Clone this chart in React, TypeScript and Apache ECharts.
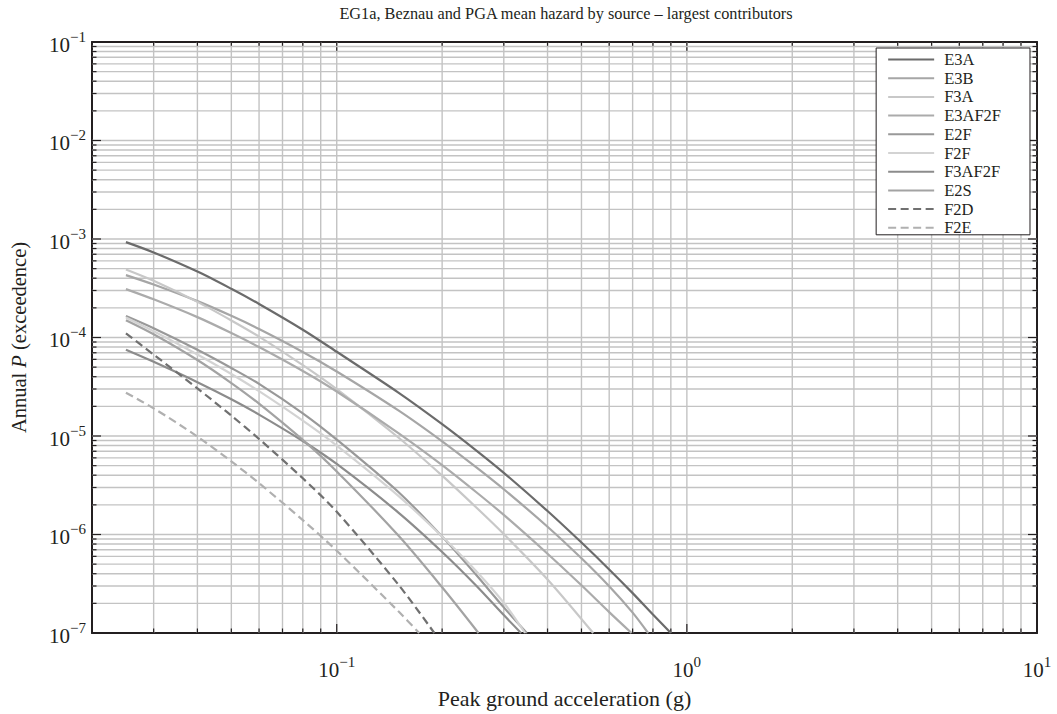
import React, { useEffect, useRef } from 'react';
import * as echarts from 'echarts';

// Peak ground acceleration sample points (g)
const pga = [0.025, 0.03, 0.04, 0.05, 0.06, 0.08, 0.1, 0.15, 0.2, 0.25, 0.3, 0.4, 0.5, 0.6, 0.7, 0.8];

// Annual probability of exceedance per source, read at the pga points above
const E3A = [9.3e-4, 7.3e-4, 4.67e-4, 3.12e-4, 2.19e-4, 1.2e-4, 7.16e-5, 2.76e-5, 1.32e-5, 7.16e-6, 4.23e-6, 1.73e-6, 8.28e-7, 4.42e-7, 2.54e-7, 1.54e-7];
const E3B = [4.3e-4, 3.45e-4, 2.34e-4, 1.66e-4, 1.22e-4, 7.14e-5, 4.52e-5, 1.82e-5, 8.84e-6, 4.83e-6, 2.88e-6, 1.2e-6, 5.73e-7, 2.98e-7, 1.61e-7];
const F3A = [4.9e-4, 3.76e-4, 2.3e-4, 1.49e-4, 1.02e-4, 5.25e-5, 3.0e-5, 9.66e-6, 3.96e-6, 1.89e-6, 1.01e-6, 3.5e-7];
const E3AF2F = [3.1e-4, 2.44e-4, 1.61e-4, 1.11e-4, 8.0e-5, 4.57e-5, 2.83e-5, 1.07e-5, 5.06e-6, 2.7e-6, 1.58e-6, 6.38e-7, 3.05e-7, 1.63e-7];
const E2F = [1.65e-4, 1.24e-4, 7.5e-5, 4.9e-5, 3.38e-5, 1.7e-5, 9.2e-6, 2.7e-6, 9.53e-7, 3.9e-7, 1.82e-7];
const F2F = [1.6e-4, 1.16e-4, 6.73e-5, 4.26e-5, 2.85e-5, 1.43e-5, 8.0e-6, 2.47e-6, 9.55e-7, 4.27e-7, 2.03e-7];
const F3AF2F = [7.5e-5, 5.66e-5, 3.52e-5, 2.36e-5, 1.65e-5, 8.9e-6, 5.2e-6, 1.67e-6, 6.65e-7, 3.04e-7, 1.52e-7];
const E2S = [1.5e-4, 1.08e-4, 5.91e-5, 3.45e-5, 2.13e-5, 9.12e-6, 4.37e-6, 9.75e-7, 2.91e-7];
const F2D = [1.1e-4, 6.71e-5, 3.04e-5, 1.61e-5, 9.33e-6, 3.72e-6, 1.7e-6, 3.1e-7];
const F2E = [2.75e-5, 1.91e-5, 9.87e-6, 5.52e-6, 3.32e-6, 1.4e-6, 6.85e-7, 1.66e-7];

const sourceNames = ['E3A', 'E3B', 'F3A', 'E3AF2F', 'E2F', 'F2F', 'F3AF2F', 'E2S', 'F2D', 'F2E'];
const sourceValues = [E3A, E3B, F3A, E3AF2F, E2F, F2F, F3AF2F, E2S, F2D, F2E];
// PGA at which each curve reaches the lower bound of the plot (1e-7)
const endPga = [0.9, 0.775, 0.54, 0.695, 0.349, 0.345, 0.336, 0.254, 0.19, 0.172];

// Axis ranges and log grid positions
const xRange = [0.02, 10];
const yRange = [1e-7, 1e-1];
const xGridValues = [0.03, 0.04, 0.05, 0.06, 0.07, 0.08, 0.09, 0.1, 0.2, 0.3, 0.4, 0.5, 0.6, 0.7, 0.8, 0.9, 1, 2, 3, 4, 5, 6, 7, 8, 9];
const yDecades = [1e-7, 1e-6, 1e-5, 1e-4, 1e-3, 1e-2];
const yMantissas = [1, 2, 3, 4, 5, 6, 7, 8, 9];

const lineColors = ['#6b6b6b', '#a6a6a6', '#c8c8c8', '#ababab', '#999999', '#d3d3d3', '#8c8c8c', '#a3a3a3', '#707070', '#b0b0b0'];
const dashed = [false, false, false, false, false, false, false, false, true, true];

const titleText = 'EG1a, Beznau and PGA mean hazard by source \u2013 largest contributors';
const xName = 'Peak ground acceleration (g)';

const FONT = '"Liberation Serif", "DejaVu Serif", serif';
const INK = '#231f20';
const GRID = '#c3c3c3';
const MAJOR_TICK = 9;
const MINOR_TICK = 4.5;

function isPow10(v: number) {
  const lg = Math.log10(v);
  return Math.abs(lg - Math.round(lg)) < 1e-6;
}

function powLabel(v: number) {
  if (!isPow10(v)) return '';
  const e = Math.round(Math.log10(v));
  const sup = e < 0 ? '\u2212' + String(-e) : String(e);
  return '{b|10}{s|' + sup + '}';
}

const richPow = {
  b: { fontFamily: FONT, fontSize: 21, color: INK, lineHeight: 26, verticalAlign: 'bottom' },
  s: { fontFamily: FONT, fontSize: 15, color: INK, verticalAlign: 'top', lineHeight: 26 },
};

export default function App() {
  const ref = useRef<HTMLDivElement>(null);
  useEffect(() => {
    if (!ref.current) return;
    const chart = echarts.init(ref.current, null, { renderer: 'svg' });

    const series: any[] = sourceNames.map((name, i) => {
      const data: number[][] = [];
      sourceValues[i].forEach((v, j) => {
        if (v != null) data.push([pga[j], v as number]);
      });
      data.push([endPga[i], yRange[0]]);
      return {
        name,
        type: 'line',
        data,
        smooth: 0.3,
        symbol: 'none',
        z: 3,
        lineStyle: {
          color: lineColors[i],
          width: 2.2,
          type: dashed[i] ? [8, 4.5] : 'solid',
        },
        itemStyle: { color: lineColors[i] },
      };
    });

    const tickLine = (x1: number, y1: number, x2: number, y2: number) => ({
      type: 'line',
      shape: { x1, y1, x2, y2 },
      style: { stroke: INK, lineWidth: 1.2 },
    });

    // Vertical grid lines with ticks on bottom and top axes
    series.push({
      name: '_xgrid',
      type: 'custom',
      silent: true,
      z: 1,
      clip: false,
      data: xGridValues.map((x) => [x, yRange[0]]),
      renderItem: (params: any, api: any) => {
        const x = api.value(0);
        const b = api.coord([x, yRange[0]]);
        const t = api.coord([x, yRange[1]]);
        const len = isPow10(x) ? MAJOR_TICK : MINOR_TICK;
        return {
          type: 'group',
          children: [
            { type: 'line', shape: { x1: b[0], y1: b[1], x2: t[0], y2: t[1] }, style: { stroke: GRID, lineWidth: 1.4 } },
            tickLine(b[0], b[1], b[0], b[1] - len),
            tickLine(t[0], t[1], t[0], t[1] + len),
          ],
        };
      },
    });

    // Horizontal grid lines with ticks on left and right axes
    const yGridValues: number[] = [];
    yDecades.forEach((d) => yMantissas.forEach((m) => {
      const v = m * d;
      if (v > yRange[0] * 1.0001) yGridValues.push(v);
    }));
    series.push({
      name: '_ygrid',
      type: 'custom',
      silent: true,
      z: 1,
      clip: false,
      data: yGridValues.map((y) => [xRange[0], y]),
      renderItem: (params: any, api: any) => {
        const y = api.value(1);
        const l = api.coord([xRange[0], y]);
        const r = api.coord([xRange[1], y]);
        const len = isPow10(y) ? MAJOR_TICK : MINOR_TICK;
        return {
          type: 'group',
          children: [
            { type: 'line', shape: { x1: l[0], y1: l[1], x2: r[0], y2: r[1] }, style: { stroke: GRID, lineWidth: 1.4 } },
            tickLine(l[0], l[1], l[0] + len, l[1]),
            tickLine(r[0], r[1], r[0] - len, r[1]),
          ],
        };
      },
    });

    const baseAxis = {
      type: 'log',
      logBase: 10,
      axisLine: { show: true, onZero: false, lineStyle: { color: INK, width: 2 } },
      axisTick: { show: false },
      minorTick: { show: false },
      splitLine: { show: false },
      minorSplitLine: { show: false },
    };

    const option: any = {
      animation: false,
      backgroundColor: '#ffffff',
      title: {
        text: titleText,
        left: 561,
        top: 0,
        textAlign: 'center',
        textStyle: { fontFamily: FONT, fontSize: 16.3, fontWeight: 'normal', color: INK },
      },
      grid: { left: 85, right: 20, top: 42, bottom: 70, containLabel: false },
      legend: {
        data: sourceNames,
        orient: 'vertical',
        right: 27,
        top: 48,
        backgroundColor: '#ffffff',
        borderColor: INK,
        borderWidth: 1,
        borderRadius: 0,
        padding: [3, 29, -1.5, 11],
        itemWidth: 46,
        itemHeight: 14,
        itemGap: 1.7,
        itemStyle: { opacity: 0 },
        textStyle: { fontFamily: FONT, fontSize: 16.5, color: INK, padding: [0, 0, 0, 5] },
      },
      xAxis: [
        {
          ...baseAxis,
          min: xRange[0],
          max: xRange[1],
          position: 'bottom',
          name: xName,
          nameLocation: 'middle',
          nameGap: 54,
          nameTextStyle: { fontFamily: FONT, fontSize: 22, color: INK },
          axisLabel: { show: true, margin: 21, formatter: powLabel, rich: richPow },
        },
        {
          ...baseAxis,
          min: xRange[0],
          max: xRange[1],
          position: 'top',
          axisLabel: { show: false },
        },
      ],
      yAxis: [
        {
          ...baseAxis,
          min: yRange[0],
          max: yRange[1],
          position: 'left',
          name: '{n|Annual }{i|P}{n| (exceedence)}',
          nameLocation: 'middle',
          nameGap: 63,
          nameTextStyle: {
            rich: {
              n: { fontFamily: FONT, fontSize: 20.5, color: INK },
              i: { fontFamily: FONT, fontSize: 20.5, color: INK, fontStyle: 'italic' },
            },
          },
          axisLabel: { show: true, margin: 6, formatter: powLabel, rich: richPow },
        },
        {
          ...baseAxis,
          min: yRange[0],
          max: yRange[1],
          position: 'right',
          axisLabel: { show: false },
        },
      ],
      series,
    };

    chart.setOption(option);
    return () => chart.dispose();
  }, []);

  return (
    <div
      ref={ref}
      style={{ position: 'fixed', left: 0, top: 0, width: 1057, height: 714, background: '#fff' }}
    />
  );
}
